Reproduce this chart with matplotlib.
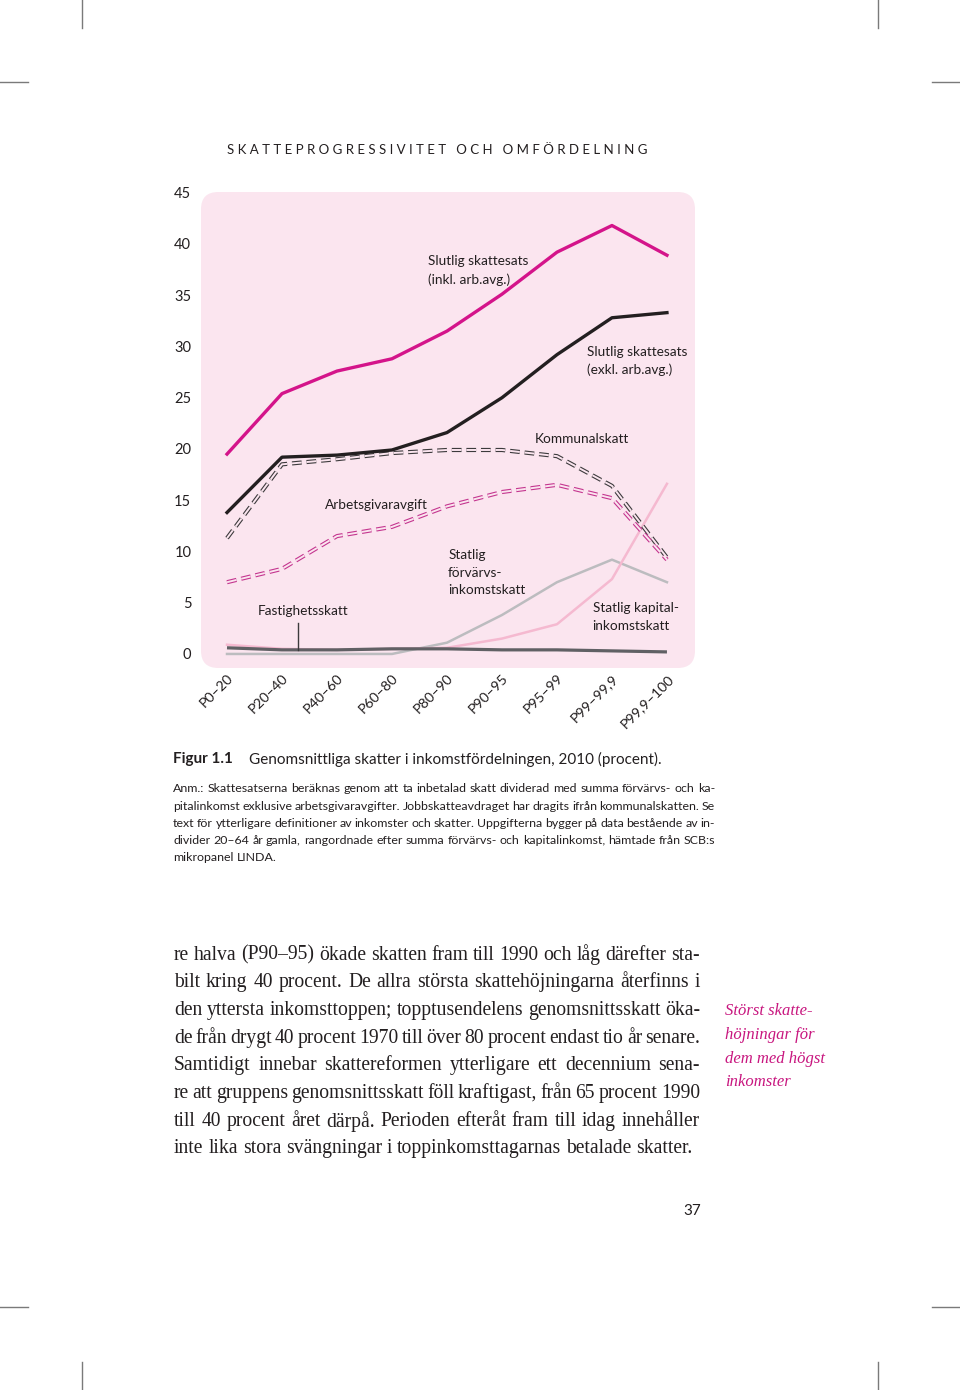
import matplotlib
matplotlib.use("Agg")
import matplotlib.pyplot as plt
from matplotlib.patches import FancyBboxPatch
from matplotlib.lines import Line2D

plt.rcParams['lines.scale_dashes'] = False

# ---------------- data ----------------
categories = ["P0–20", "P20–40", "P40–60", "P60–80", "P80–90", "P90–95", "P95–99", "P99–99,9", "P99,9–100"]
slutlig_inkl = [19.5, 25.4, 27.6, 28.8, 31.5, 35.1, 39.2, 41.8, 38.9]
slutlig_exkl = [13.8, 19.2, 19.4, 19.9, 21.6, 25.0, 29.2, 32.8, 33.3]
kommunalskatt = [11.3, 18.5, 19.0, 19.6, 19.9, 19.9, 19.3, 16.4, 9.4]
arbetsgivaravgift = [7.0, 8.3, 11.5, 12.4, 14.4, 15.8, 16.5, 15.2, 9.2]
statlig_forvarv = [0.0, 0.0, 0.0, 0.0, 1.1, 3.8, 7.0, 9.2, 7.0]
statlig_kapital = [0.9, 0.5, 0.4, 0.5, 0.6, 1.5, 2.9, 7.3, 16.6]
fastighetsskatt = [0.6, 0.4, 0.4, 0.5, 0.5, 0.4, 0.4, 0.3, 0.2]
yticks = [0, 5, 10, 15, 20, 25, 30, 35, 40, 45]

header = "SKATTEPROGRESSIVITET OCH OMFÖRDELNING"
fig_label = "Figur 1.1"
fig_title = "Genomsnittliga skatter i inkomstfördelningen, 2010 (procent)."
note_lines = [
    "Anm.: Skattesatserna beräknas genom att ta inbetalad skatt dividerad med summa förvärvs- och ka-",
    "pitalinkomst exklusive arbetsgivaravgifter. Jobbskatteavdraget har dragits ifrån kommunalskatten. Se",
    "text för ytterligare definitioner av inkomster och skatter. Uppgifterna bygger på data bestående av in-",
    "divider 20–64 år gamla, rangordnade efter summa förvärvs- och kapitalinkomst, hämtade från SCB:s",
    "mikropanel LINDA.",
]
body_lines = [
    "re halva (P90–95) ökade skatten fram till 1990 och låg därefter sta-",
    "bilt kring 40 procent. De allra största skattehöjningarna återfinns i",
    "den yttersta inkomsttoppen; topptusendelens genomsnittsskatt öka-",
    "de från drygt 40 procent 1970 till över 80 procent endast tio år senare.",
    "Samtidigt innebar skattereformen ytterligare ett decennium sena-",
    "re att gruppens genomsnittsskatt föll kraftigast, från 65 procent 1990",
    "till 40 procent året därpå. Perioden efteråt fram till idag innehåller",
    "inte lika stora svängningar i toppinkomsttagarnas betalade skatter.",
]
side_note = ["Störst skatte-", "höjningar för", "dem med högst", "inkomster"]
page_number = "37"

# ---------------- figure ----------------
W, H = 960, 1390
fig = plt.figure(figsize=(W / 100, H / 100), dpi=100)
fig.patch.set_facecolor("white")

def fx(x):
    return x / W

def fy(y):
    return 1 - y / H

SANS = ["Lato", "DejaVu Sans"]
SERIF = ["Liberation Serif", "DejaVu Serif"]
MAGENTA = "#d4148a"
BG = "#fbe5ef"

# axes placed over the pink panel
L, T, R, B = 201, 192, 695, 668
ax = fig.add_axes([fx(L), fy(B), fx(R) - fx(L), fy(T) - fy(B)])
ax.set_xlim(-0.473, 8.51)
ax.set_ylim(-1.37, 45.07)
ax.patch.set_visible(False)
for s in ax.spines.values():
    s.set_visible(False)

panel = FancyBboxPatch((0.0, 0.0), 1.0, 1.0, boxstyle="round,pad=0,rounding_size=0.035",
                       transform=ax.transAxes, facecolor=BG, edgecolor="none", zorder=0,
                       mutation_aspect=494 / 476)
ax.add_patch(panel)

x = list(range(len(categories)))

ax.plot(x, fastighetsskatt, color="#606064", lw=2.3, zorder=3, solid_capstyle="butt")
ax.plot(x, statlig_forvarv, color="#bcbcbf", lw=1.8, zorder=2)
ax.plot(x, statlig_kapital, color="#f5b9d0", lw=1.8, zorder=2)

def double_dashed(ys, color):
    ds = (0, (7, 3.5))
    ax.plot(x, ys, color=color, lw=3.0, linestyle=ds, dash_capstyle="butt", zorder=4)
    ax.plot(x, ys, color=BG, lw=1.4, linestyle=ds, dash_capstyle="butt", zorder=4.1)

double_dashed(kommunalskatt, "#3c3a3c")
double_dashed(arbetsgivaravgift, "#c4358f")

ax.plot(x, slutlig_exkl, color="#231f20", lw=2.4, zorder=5)
ax.plot(x, slutlig_inkl, color=MAGENTA, lw=2.4, zorder=5)

ax.set_yticks(yticks)
ax.set_yticklabels([str(v) for v in yticks], fontsize=10.5, family=SANS, color="#231f20")
ax.tick_params(axis="y", length=0, pad=7)
ax.set_xticks(x)
ax.set_xticklabels(categories, rotation=45, ha="right", rotation_mode="anchor",
                   fontsize=10.3, family=SANS, color="#231f20")
ax.tick_params(axis="x", length=0, pad=3)

lab_kw = dict(fontsize=9.8, family=SANS, color="#231f20", va="center", ha="left", linespacing=1.55)
ax.text(3.65, 37.4, "Slutlig skattesats\n(inkl. arb.avg.)", **lab_kw)
ax.text(6.55, 28.6, "Slutlig skattesats\n(exkl. arb.avg.)", **lab_kw)
ax.text(5.6, 21.0, "Kommunalskatt", **lab_kw)
ax.text(1.78, 14.5, "Arbetsgivaravgift", **lab_kw)
ax.text(4.02, 7.9, "Statlig\nförvärvs-\ninkomstskatt", **lab_kw)
ax.text(6.65, 3.6, "Statlig kapital-\ninkomstskatt", **lab_kw)
ax.annotate("Fastighetsskatt", xy=(1.29, 0.4), xytext=(0.55, 4.2),
            fontsize=9.8, family=SANS, color="#231f20", va="center", ha="left")
ax.plot([1.29, 1.29], [0.4, 3.0], color="#3c3a3c", lw=1.0, zorder=3)

# ---------------- page text ----------------
spaced = "   ".join(" ".join(w) for w in header.split(" "))
fig.text(fx(227), fy(150), spaced, fontsize=9.5, family=SANS, color="#231f20", va="center", ha="left")

fig.text(fx(173), fy(759), fig_label, fontsize=11, family=SANS, weight="bold", color="#231f20", va="center")
fig.text(fx(249), fy(759), fig_title, fontsize=11, family=SANS, color="#231f20", va="center")

renderer = fig.canvas.get_renderer()

def justify(line, x0, x1, y, last=False, **kw):
    words = line.split(" ")
    texts = [fig.text(0, fy(y), w, va="center", ha="left", **kw) for w in words]
    widths = [t.get_window_extent(renderer).width for t in texts]
    sp = fig.text(0, 0, "a b", **kw)
    sp2 = fig.text(0, 0, "ab", **kw)
    natural = sp.get_window_extent(renderer).width - sp2.get_window_extent(renderer).width
    sp.remove(); sp2.remove()
    if last or len(words) == 1:
        gap = natural
    else:
        gap = (x1 - x0 - sum(widths)) / (len(words) - 1)
    cur = x0
    for t, w in zip(texts, widths):
        t.set_x(fx(cur))
        cur += w + gap

note_kw = dict(fontsize=8.9, family=SANS, color="#231f20")
for i, ln in enumerate(note_lines):
    justify(ln, 173, 715, 789 + i * 17.1, last=(i == len(note_lines) - 1), **note_kw)

body_kw = dict(fontsize=14.1, family=SERIF, color="#231f20")
for i, ln in enumerate(body_lines):
    justify(ln, 174, 700, 955 + i * 27.7, last=(i == len(body_lines) - 1), **body_kw)

for i, ln in enumerate(side_note):
    fig.text(fx(725), fy(1011 + i * 23.8), ln, fontsize=12, family=SERIF, style="italic",
             color="#c8167f", va="center", ha="left")

fig.text(fx(692), fy(1211), page_number, fontsize=11, family=SANS, color="#231f20", va="center", ha="center")

# crop marks
mark_kw = dict(color="#7a7a7a", lw=1.0, transform=fig.transFigure)
for (xa, ya, xb, yb) in [(82, 0, 82, 28), (0, 82, 28, 82), (878, 0, 878, 28), (932, 82, 960, 82),
                         (0, 1307, 28, 1307), (82, 1362, 82, 1390), (932, 1307, 960, 1307),
                         (878, 1362, 878, 1390)]:
    fig.add_artist(Line2D([fx(xa), fx(xb)], [fy(ya), fy(yb)], **mark_kw))

fig.savefig("out.png", dpi=100, facecolor="white")
